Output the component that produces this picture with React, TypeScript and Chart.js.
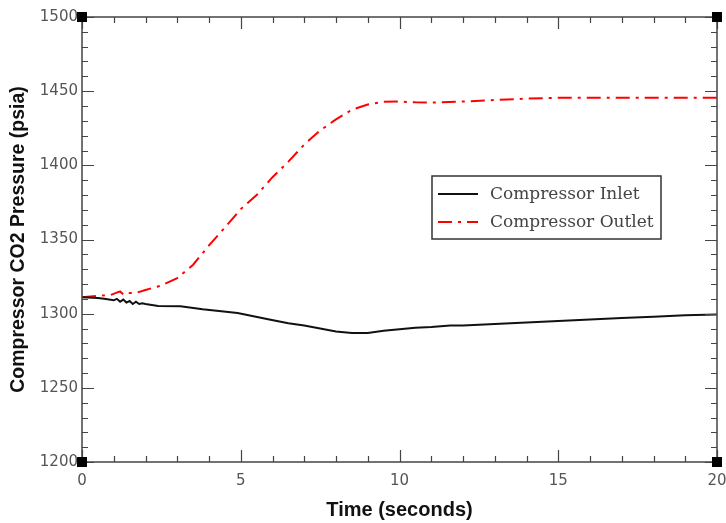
import React, { useEffect, useRef } from "react";
import { Chart, registerables } from "chart.js";

Chart.register(...registerables);

const inletTime = [0, 0.5, 0.7, 1.0, 1.1, 1.2, 1.3, 1.4, 1.5, 1.6, 1.7, 1.8, 1.9, 2.0, 2.4, 3.1, 3.8, 4.9, 5.9, 6.5, 7.0, 7.5, 8.0, 8.5, 9.0, 9.5, 10, 10.5, 11, 11.6, 12, 13, 14, 15, 16, 17, 18, 19, 20];
const inletValues = [1311, 1310.5, 1310, 1309, 1310, 1308, 1309.5, 1307.5, 1308.5, 1306.5, 1308, 1306.5, 1307, 1306.5, 1305.2, 1305, 1303, 1300.5, 1296, 1293.5, 1292, 1290, 1288, 1287, 1287, 1288.5, 1289.5, 1290.5, 1291, 1292, 1292, 1293, 1294, 1295, 1296, 1297, 1298, 1299, 1299.5];

const outletTime = [0, 0.5, 0.9, 1.2, 1.3, 1.4, 1.7, 2.0, 2.5, 3.0, 3.5, 4.0, 4.5, 5.0, 5.5, 6.0, 6.5, 7.0, 7.5, 8.0, 8.5, 9.0, 9.5, 10, 10.5, 11, 12, 13, 14, 15, 16, 17, 18, 19, 20];
const outletValues = [1311, 1312, 1312.6, 1315, 1313, 1314, 1314, 1316, 1319, 1324, 1333, 1346, 1358, 1370.5, 1380, 1392, 1402.5, 1414, 1423.5, 1431, 1437.5, 1441, 1442.8, 1443, 1442.5, 1442.3, 1443, 1444, 1445, 1445.5, 1445.5, 1445.5, 1445.5, 1445.5, 1445.5];

const seriesNames = ["Compressor Inlet", "Compressor Outlet"];
const xTicks = [0, 5, 10, 15, 20];
const yTicks = [1200, 1250, 1300, 1350, 1400, 1450, 1500];

const OUTLET_DASH = [14, 6, 3, 6];

const framePlugin = {
  id: "framePlugin",
  afterDraw(chart: any) {
    const { ctx, chartArea, scales } = chart;
    const { left, right, top, bottom } = chartArea;
    const xs = scales.x;
    const ys = scales.y;
    ctx.save();
    ctx.strokeStyle = "#444";
    ctx.lineWidth = 1.5;
    ctx.strokeRect(left, top, right - left, bottom - top);
    ctx.lineWidth = 1.2;
    ctx.beginPath();
    for (let v = 1200; v <= 1500; v += 10) {
      const y = Math.round(ys.getPixelForValue(v)) + 0.5;
      const len = v % 50 === 0 ? 12 : 6;
      ctx.moveTo(left, y);
      ctx.lineTo(left + len, y);
      ctx.moveTo(right, y);
      ctx.lineTo(right - len, y);
    }
    for (let t = 0; t <= 20; t += 1) {
      const x = Math.round(xs.getPixelForValue(t)) + 0.5;
      const len = t % 5 === 0 ? 12 : 6;
      ctx.moveTo(x, bottom);
      ctx.lineTo(x, bottom - len);
      ctx.moveTo(x, top);
      ctx.lineTo(x, top + len);
    }
    ctx.stroke();
    ctx.fillStyle = "#000";
    const s = 10;
    [[left, top], [right, top], [left, bottom], [right, bottom]].forEach(([cx, cy]) => {
      ctx.fillRect(cx - s / 2, cy - s / 2, s, s);
    });

    // legend
    const bx = 432, by = 176, bw = 229, bh = 63;
    ctx.fillStyle = "#fff";
    ctx.fillRect(bx, by, bw, bh);
    ctx.strokeStyle = "#333";
    ctx.lineWidth = 1.5;
    ctx.strokeRect(bx, by, bw, bh);
    const items = chart.data.datasets;
    const rows = [194, 222];
    items.forEach((ds: any, i: number) => {
      const y = rows[i];
      ctx.strokeStyle = ds.borderColor;
      ctx.lineWidth = 2;
      ctx.setLineDash(ds.borderDash || []);
      ctx.beginPath();
      ctx.moveTo(438, y);
      ctx.lineTo(478, y);
      ctx.stroke();
      ctx.setLineDash([]);
      ctx.fillStyle = "#444";
      ctx.font = "17px 'DejaVu Serif'";
      ctx.textBaseline = "middle";
      ctx.textAlign = "left";
      ctx.fillText(ds.label, 490, y + 1);
    });
    ctx.restore();
  },
};

export default function App() {
  const ref = useRef<HTMLCanvasElement | null>(null);
  useEffect(() => {
    document.body.style.margin = "0";
    const canvas = ref.current;
    if (!canvas) return;
    const chart = new Chart(canvas, {
      type: "line",
      data: {
        datasets: [
          {
            label: seriesNames[0],
            data: inletTime.map((t, i) => ({ x: t, y: inletValues[i] })),
            borderColor: "#111",
            borderWidth: 2,
            pointRadius: 0,
            tension: 0,
            fill: false,
          },
          {
            label: seriesNames[1],
            data: outletTime.map((t, i) => ({ x: t, y: outletValues[i] })),
            borderColor: "#ff0000",
            borderWidth: 2,
            borderDash: OUTLET_DASH,
            pointRadius: 0,
            tension: 0,
            fill: false,
          },
        ],
      },
      options: {
        animation: false,
        responsive: false,
        maintainAspectRatio: false,
        layout: { padding: { left: 0, right: 9, top: 17, bottom: 0 }, autoPadding: false },
        plugins: { legend: { display: false }, tooltip: { enabled: false } },
        scales: {
          x: {
            type: "linear",
            min: 0,
            max: 20,
            afterFit: (s: any) => { s.height = 61; s.paddingLeft = 0; s.paddingRight = 0; },
            afterBuildTicks: (s: any) => { s.ticks = xTicks.map((v) => ({ value: v })); },
            grid: { display: false, drawTicks: false },
            border: { display: false },
            ticks: { padding: 10, color: "#555", font: { family: "'DejaVu Sans'", size: 15 }, maxRotation: 0, callback: (v: any) => String(v) },
            title: {
              display: true,
              text: "Time (seconds)",
              color: "#111",
              font: { family: "'Liberation Sans'", size: 20, weight: "bold" },
              padding: { top: 0, bottom: 1 },
            },
          },
          y: {
            type: "linear",
            min: 1200,
            max: 1500,
            afterFit: (s: any) => { s.width = 82; s.paddingTop = 0; s.paddingBottom = 0; },
            afterBuildTicks: (s: any) => { s.ticks = yTicks.map((v) => ({ value: v })); },
            grid: { display: false, drawTicks: false },
            border: { display: false },
            ticks: { padding: 4, color: "#555", font: { family: "'DejaVu Sans'", size: 15 }, callback: (v: any) => String(v) },
            title: {
              display: true,
              text: "Compressor CO2 Pressure (psia)",
              color: "#111",
              font: { family: "'Liberation Sans'", size: 19.5, weight: "bold" },
              padding: { top: 7, bottom: 0 },
            },
          },
        },
      },
      plugins: [framePlugin],
    });
    return () => chart.destroy();
  }, []);
  return (
    <div style={{ width: 726, height: 523, background: "#fff" }}>
      <canvas ref={ref} width={726} height={523} style={{ display: "block" }} />
    </div>
  );
}
